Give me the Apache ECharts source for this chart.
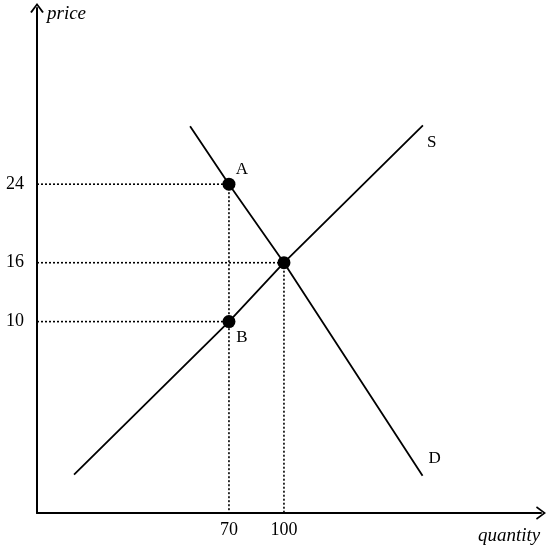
<!DOCTYPE html>
<html>
<head>
<meta charset="utf-8">
<script src="https://cdn.jsdelivr.net/npm/echarts@6/dist/echarts.min.js"></script>
<style>html,body{margin:0;padding:0;background:#fff}#c{width:558px;height:551px}</style>
</head>
<body>
<div id="c"></div>
<script>
// Axis ranges (data units: quantity / price; diagram is not drawn to scale)
var qMin = -34.7, qMax = 240.2;
var pMin = -9.5, pMax = 41.95;
var qTicks = [70, 100];
var pTicks = [10, 16, 24];

// Supply and demand curves (end points and points on the curves)
var supply = [[-14.5, -5.6], [70, 10], [100, 16], [175.8, 30.0]];
var demand = [[48.8, 29.9], [70, 24], [100, 16], [175.6, -5.7]];

// Marked points
var pointNames = ['A', 'B', ''];
var pointQ = [70, 70, 100];
var pointP = [24, 10, 16];

var serif = '"Liberation Serif","DejaVu Serif",serif';
var chevron = 'path://M0,10 L7.5,0 L15,10 L13.2,11 L7.5,3 L1.8,11 Z';
var dotted = { color: '#000', width: 1.6, type: [2, 2] };

var guides = [];
// horizontal guides from the price axis to each point
for (var i = 0; i < pointQ.length; i++) {
  guides.push({
    type: 'line', silent: true, showSymbol: false, symbol: 'none', z: 1, lineStyle: dotted,
    data: [[qMin, pointP[i]], [pointQ[i], pointP[i]]]
  });
}
// vertical guides: one per quantity, from the highest point down to the quantity axis
var topByQ = {};
for (var k = 0; k < pointQ.length; k++) {
  if (!(pointQ[k] in topByQ) || pointP[k] > topByQ[pointQ[k]]) topByQ[pointQ[k]] = pointP[k];
}
Object.keys(topByQ).forEach(function (q) {
  guides.push({
    type: 'line', silent: true, showSymbol: false, symbol: 'none', z: 1, lineStyle: dotted,
    data: [[+q, topByQ[q]], [+q, pMin]]
  });
});

var labelOffsets = { 'A': [13, -15], 'B': [13, 16] };
var pts = [];
for (var j = 0; j < pointQ.length; j++) {
  var nm = pointNames[j];
  pts.push({
    name: nm, value: [pointQ[j], pointP[j]],
    label: { show: nm !== '', formatter: nm, position: 'inside', offset: labelOffsets[nm] || [0, 0],
             color: '#000', fontFamily: serif, fontSize: 17 }
  });
}

var chart = echarts.init(document.getElementById('c'), null, { renderer: 'canvas' });
chart.setOption({
  animation: false,
  backgroundColor: '#fff',
  grid: { left: 37, top: 8, width: 504, height: 505 },
  xAxis: {
    type: 'value', min: qMin, max: qMax,
    axisLine: { onZero: false, lineStyle: { color: '#000', width: 2 }, symbol: ['none', chevron], symbolSize: [15, 10] },
    axisTick: { show: false }, splitLine: { show: false },
    axisLabel: { customValues: qTicks, margin: 8, color: '#000', fontFamily: serif, fontSize: 18 }
  },
  yAxis: {
    type: 'value', min: pMin, max: pMax,
    axisLine: { onZero: false, lineStyle: { color: '#000', width: 2 }, symbol: ['none', chevron], symbolSize: [15, 10] },
    axisTick: { show: false }, splitLine: { show: false },
    axisLabel: { customValues: pTicks, margin: 13, color: '#000', fontFamily: serif, fontSize: 18 }
  },
  graphic: [
    { type: 'text', left: 47, top: 4, style: { text: 'price', font: 'italic 19px ' + serif, fill: '#000' } },
    { type: 'text', left: 478, top: 526, style: { text: 'quantity', font: 'italic 19px ' + serif, fill: '#000' } }
  ],
  series: guides.concat([
    {
      type: 'line', name: 'S', data: supply, showSymbol: false, symbol: 'none', z: 3,
      lineStyle: { color: '#000', width: 1.8 },
      endLabel: { show: true, formatter: 'S', color: '#000', fontFamily: serif, fontSize: 17, distance: 0, offset: [4, 17] }
    },
    {
      type: 'line', name: 'D', data: demand, showSymbol: false, symbol: 'none', z: 3,
      lineStyle: { color: '#000', width: 1.8 },
      endLabel: { show: true, formatter: 'D', color: '#000', fontFamily: serif, fontSize: 17, distance: 0, offset: [6, -17] }
    },
    {
      type: 'scatter', data: pts, symbolSize: 13, z: 5,
      itemStyle: { color: '#000', opacity: 1 },
      emphasis: { disabled: true }
    }
  ])
});
</script>
</body>
</html>
